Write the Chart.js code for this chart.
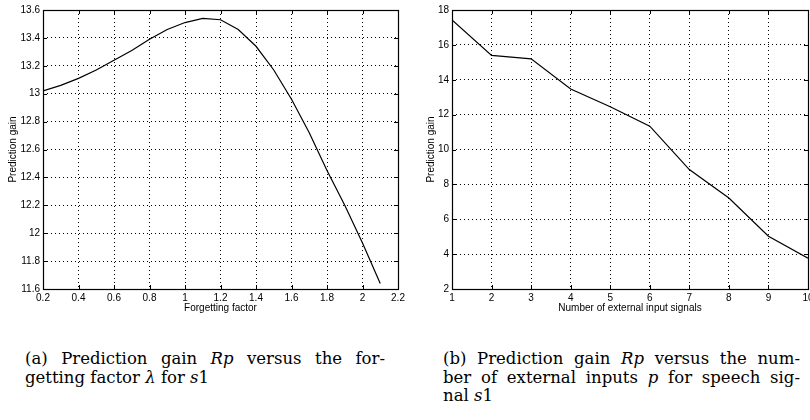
<!DOCTYPE html>
<html>
<head>
<meta charset="utf-8">
<script src="https://cdn.jsdelivr.net/npm/chart.js@4"></script>
<style>
  html, body { margin: 0; padding: 0; background: #fff; }
  body { width: 810px; height: 420px; position: relative; overflow: hidden; }
  .cv { position: absolute; top: 0; }
  .cap { position: absolute; font-family: "DejaVu Serif", serif; font-size: 16.5px; line-height: 18.5px; color: #000; }
  .cap .l { display: block; white-space: nowrap; }
  .cap .jj { display: flex; justify-content: space-between; }
</style>
</head>
<body>
<div class="cv" style="left:0;width:405px;height:320px;"><canvas id="c1" width="405" height="320"></canvas></div>
<div class="cv" style="left:405px;width:405px;height:320px;"><canvas id="c2" width="405" height="320"></canvas></div>

<div class="cap" style="left:25px;top:350px;width:360px;">
  <span class="jj"><span>(a)</span><span>Prediction</span><span>gain</span><span><i>Rp</i></span><span>versus</span><span>the</span><span>for-</span></span>
  <span class="l">getting factor <i>λ</i> for <i>s</i>1</span>
</div>
<div class="cap" style="left:443px;top:350px;width:357px;">
  <span class="jj"><span>(b)</span><span>Prediction</span><span>gain</span><span><i>Rp</i></span><span>versus</span><span>the</span><span>num-</span></span>
  <span class="jj"><span>ber</span><span>of</span><span>external</span><span>inputs</span><span><i>p</i></span><span>for</span><span>speech</span><span>sig-</span></span>
  <span class="l">nal <i>s</i>1</span>
</div>

<script>
// ---- data ----
const leftX = [0.2, 0.3, 0.4, 0.5, 0.6, 0.7, 0.8, 0.9, 1.0, 1.1, 1.2, 1.3, 1.4, 1.5, 1.6, 1.7, 1.8, 1.9, 2.0, 2.1];
const leftY = [13.02, 13.06, 13.11, 13.17, 13.24, 13.31, 13.39, 13.46, 13.51, 13.54, 13.53, 13.46, 13.34, 13.17, 12.96, 12.72, 12.45, 12.20, 11.93, 11.64];
const rightX = [1, 2, 3, 4, 5, 6, 7, 8, 9, 10];
const rightY = [17.43, 15.40, 15.20, 13.47, 12.45, 11.34, 8.85, 7.22, 5.03, 3.77];

const leftXTicks = [0.2, 0.4, 0.6, 0.8, 1.0, 1.2, 1.4, 1.6, 1.8, 2.0, 2.2];
const leftYTicks = [11.6, 11.8, 12.0, 12.2, 12.4, 12.6, 12.8, 13.0, 13.2, 13.4, 13.6];
const rightXTicks = [1, 2, 3, 4, 5, 6, 7, 8, 9, 10];
const rightYTicks = [2, 4, 6, 8, 10, 12, 14, 16, 18];

const leftXTitle = 'Forgetting factor';
const rightXTitle = 'Number of external input signals';
const yTitle = 'Prediction gain';

// ---- helpers ----
const FONT = { family: '"Liberation Sans", Arial, sans-serif', size: 10 };
const fmt = v => String(Math.round(v * 10) / 10);

const boxPlugin = {
  id: 'box',
  afterDraw(chart) {
    const { ctx, chartArea: a, scales } = chart;
    ctx.save();
    ctx.strokeStyle = '#000';
    ctx.lineWidth = 1;
    const tl = 4;
    ctx.beginPath();
    scales.x.ticks.forEach(t => {
      const px = Math.round(scales.x.getPixelForValue(t.value)) + 0.5;
      ctx.moveTo(px, a.bottom); ctx.lineTo(px, a.bottom - tl);
      ctx.moveTo(px, a.top); ctx.lineTo(px, a.top + tl);
    });
    scales.y.ticks.forEach(t => {
      const py = Math.round(scales.y.getPixelForValue(t.value)) + 0.5;
      ctx.moveTo(a.left, py); ctx.lineTo(a.left + tl, py);
      ctx.moveTo(a.right, py); ctx.lineTo(a.right - tl, py);
    });
    ctx.stroke();
    ctx.lineWidth = 1.2;
    ctx.strokeRect(Math.round(a.left) + 0.5, Math.round(a.top) + 0.5, Math.round(a.right - a.left), Math.round(a.bottom - a.top));
    ctx.restore();
  }
};

function makeChart(id, xs, ys, xTicks, yTicks, xTitle, cfg) {
  const pts = xs.map((x, i) => ({ x: x, y: ys[i] }));
  return new Chart(document.getElementById(id), {
    type: 'line',
    data: { datasets: [{ data: pts, borderColor: '#000', borderWidth: 1.2, pointRadius: 0, tension: 0, fill: false }] },
    options: {
      responsive: false,
      animation: false,
      events: [],
      layout: { padding: { left: 0, right: cfg.padRight, top: 10, bottom: 0 } },
      plugins: { legend: { display: false }, tooltip: { enabled: false } },
      scales: {
        x: {
          type: 'linear',
          min: xTicks[0], max: xTicks[xTicks.length - 1],
          afterBuildTicks: s => { s.ticks = xTicks.map(v => ({ value: v })); },
          afterFit: s => { s.height = 31; s.paddingLeft = 0; s.paddingRight = 0; },
          border: { display: false, dash: [1, 3] },
          grid: { color: '#000', lineWidth: 1, drawTicks: false },
          ticks: { color: '#000', font: FONT, padding: 3, maxRotation: 0, autoSkip: false, callback: v => fmt(v) },
          title: { display: true, text: xTitle, color: '#000', font: FONT, padding: { top: 0, bottom: 6 } }
        },
        y: {
          type: 'linear',
          min: yTicks[0], max: yTicks[yTicks.length - 1],
          afterBuildTicks: s => { s.ticks = yTicks.map(v => ({ value: v })); },
          afterFit: s => { s.width = cfg.yWidth; s.paddingTop = 0; s.paddingBottom = 0; },
          border: { display: false, dash: [1, 3] },
          grid: { color: '#000', lineWidth: 1, drawTicks: false },
          ticks: { color: '#000', font: FONT, padding: 3, autoSkip: false, callback: v => fmt(v) },
          title: { display: true, text: yTitle, color: '#000', font: FONT, padding: { top: cfg.yTitlePad, bottom: 0 } }
        }
      }
    },
    plugins: [boxPlugin]
  });
}

makeChart('c1', leftX, leftY, leftXTicks, leftYTicks, leftXTitle, { padRight: 7, yWidth: 43, yTitlePad: 7 });
makeChart('c2', rightX, rightY, rightXTicks, rightYTicks, rightXTitle, { padRight: 2, yWidth: 47, yTitlePad: 20 });
</script>
</body>
</html>
